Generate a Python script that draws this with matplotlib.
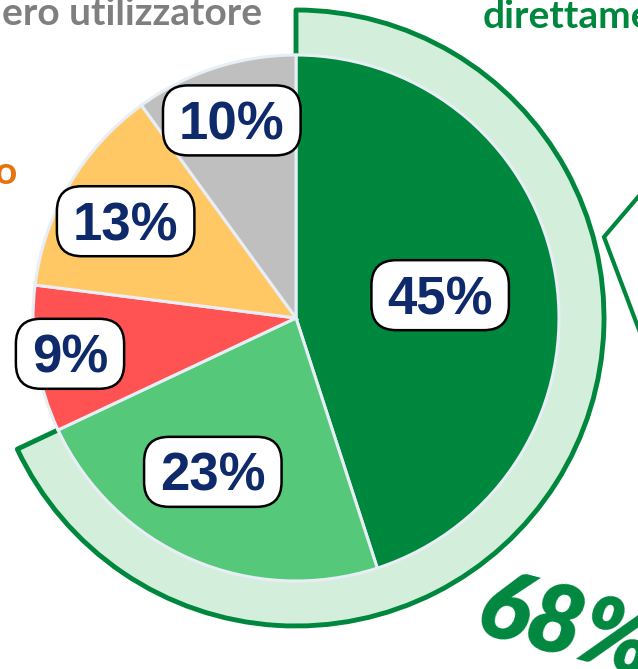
import matplotlib.pyplot as plt
from matplotlib.patches import Wedge, FancyBboxPatch
import numpy as np

# === DATA ===
labels = ["45%", "23%", "9%", "13%", "10%"]
shares = [45, 23, 9, 13, 10]
ring_share = 68           # first two slices together
ring_label = "68%"
colors = ["#00873e", "#55c87a", "#ff5353", "#ffc864", "#bfbfbf"]
label_dist = [0.555, 0.665, 0.87, 0.745, 0.79]   # fraction of radius
label_turn = [0, -5, 0, 1, 0]                    # small angular nudges (deg)

# === LAYOUT (pixel coordinates, y up) ===
W, H = 638, 669
CX, CY = 296, 669 - 318
R = 263
R_RING = 308
GREEN = "#00873e"
NAVY = "#0f2a6b"

fig = plt.figure(figsize=(W / 100, H / 100), dpi=100)
ax = fig.add_axes([0, 0, 1, 1])

# background ring for the 68% group
ring = Wedge((CX, CY), R_RING, 90 - 360 * ring_share / 100, 90, width=R_RING - 240,
             facecolor="#d3efdb", edgecolor=GREEN, linewidth=3.5, zorder=0.5,
             joinstyle="round")
ax.add_patch(ring)

wedges, _ = ax.pie(shares, colors=colors, startangle=90, counterclock=False,
                   radius=R, center=(CX, CY),
                   wedgeprops=dict(edgecolor="#e8eef6", linewidth=2.2))

ax.set_xlim(0, W)
ax.set_ylim(0, H)
ax.set_aspect("equal")
ax.axis("off")

renderer = fig.canvas.get_renderer()
for w, lab, d, turn in zip(wedges, labels, label_dist, label_turn):
    ang = np.deg2rad((w.theta1 + w.theta2) / 2 + turn)
    x = CX + R * d * np.cos(ang)
    y = CY + R * d * np.sin(ang)
    t = ax.text(x, y - 19, lab, ha="center", va="baseline", fontsize=38,
                fontweight="bold", color=NAVY, family="Liberation Sans", zorder=5)
    ext = t.get_window_extent(renderer)
    bw, bh = ext.width + 32, 70
    box = FancyBboxPatch((x - bw / 2, y - bh / 2), bw, bh,
                         boxstyle="round,pad=0,rounding_size=25",
                         facecolor="white", edgecolor="black", linewidth=1.8, zorder=4)
    ax.add_patch(box)

# category captions (cut by the frame)
ax.text(2, H - 25, "ero utilizzatore", ha="left", va="baseline", fontsize=28,
        fontweight="bold", color="#7f7f7f", family="Lato")
ax.text(483, H - 28, "direttamente", ha="left", va="baseline", fontsize=28,
        fontweight="bold", color=GREEN, family="Lato")
ax.text(17, H - 184, "o", ha="right", va="baseline", fontsize=28,
        fontweight="bold", color="#e8730c", family="Lato")

# bracket line on the right
ax.plot([644, 604, 644], [H - 190, H - 237, H - 343], color=GREEN, lw=3,
        solid_joinstyle="miter")

ax.text(472, H - 632, ring_label, ha="left", va="baseline", fontsize=68,
        fontweight="heavy", fontstyle="italic", color=GREEN, family="Lato",
        rotation=-15, rotation_mode="anchor")

fig.savefig("out.png", dpi=100)
